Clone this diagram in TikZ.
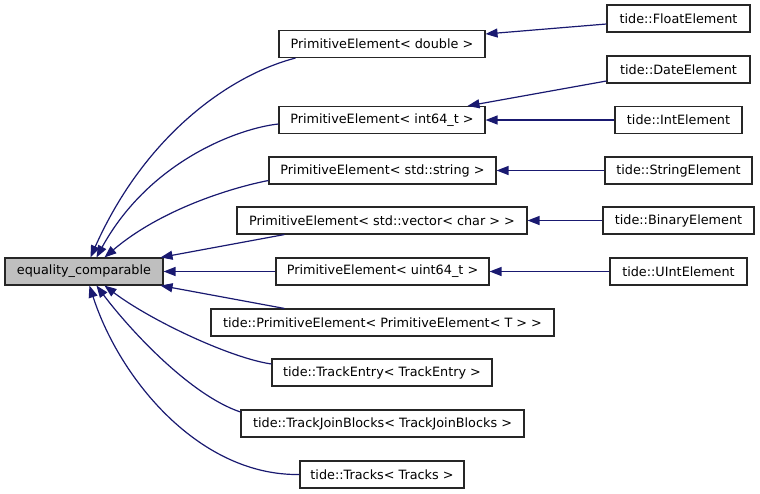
\documentclass[tikz,border=0pt]{standalone}
\usepackage{fontspec}
\setmainfont{DejaVu Sans}
\usetikzlibrary{arrows.meta,calc}
\definecolor{edgeblue}{HTML}{191970}
\tikzset{
	cls/.style={draw=black!85, line width=1.1pt, minimum height=27pt, inner sep=0pt, font=\fontsize{12.8}{15}\selectfont},
	basecls/.style={cls, fill=black!25},
	inh/.style={draw=edgeblue, line width=1.2pt, -{Triangle[length=12pt,width=9pt]}},
}

\begin{document}
\begin{tikzpicture}[x=1pt, y=-1pt]
		%%%%% START %%%%%
		\useasboundingbox (0, 0) rectangle (760, 493);
		
		\node[basecls, minimum width=158pt] (eq) at (84, 271.5) {equality\_comparable};
		
		\node[cls, minimum width=206pt] (ped) at (382, 44) {PrimitiveElement< double >};
		\node[cls, minimum width=206pt] (pei) at (382, 120) {PrimitiveElement< int64\_t >};
		\node[cls, minimum width=227pt] (pes) at (382.5, 170.5) {PrimitiveElement< std::string >};
		\node[cls, minimum width=290pt] (pev) at (382, 220.5) {PrimitiveElement< std::vector< char > >};
		\node[cls, minimum width=213pt] (peu) at (382.5, 271.5) {PrimitiveElement< uint64\_t >};
		\node[cls, minimum width=343pt] (tpe) at (382.5, 322.5) {tide::PrimitiveElement< PrimitiveElement< T > >};
		\node[cls, minimum width=220pt] (te) at (382, 372.5) {tide::TrackEntry< TrackEntry >};
		\node[cls, minimum width=283pt] (tjb) at (382.5, 423.5) {tide::TrackJoinBlocks< TrackJoinBlocks >};
		\node[cls, minimum width=164pt] (tr) at (382, 474.5) {tide::Tracks< Tracks >};
		
		\node[cls, minimum width=143pt] (fe) at (678.5, 18.5) {tide::FloatElement};
		\node[cls, minimum width=143pt] (de) at (678.5, 69.5) {tide::DateElement};
		\node[cls, minimum width=127pt] (ie) at (678.5, 120) {tide::IntElement};
		\node[cls, minimum width=147pt] (se) at (678.5, 170.5) {tide::StringElement};
		\node[cls, minimum width=151pt] (be) at (678.5, 220.5) {tide::BinaryElement};
		\node[cls, minimum width=137pt] (ue) at (678.5, 271.5) {tide::UIntElement};
		
		% into equality_comparable
		\draw[inh] ($(ped.south west)+(17,0)$) .. controls (230, 75) and (145, 135) .. ($(eq.north west)+(86,0)$);
		\draw[inh] ($(pei.west)+(0,4)$) .. controls (240, 128) and (150, 160) .. ($(eq.north west)+(92,0)$);
		\draw[inh] ($(pes.west)+(0,10)$) .. controls (230, 188) and (160, 210) .. ($(eq.north west)+(100,0)$);
		\draw[inh] ($(pev.south west)+(48,0)$) -- ($(eq.north east)+(-3,0)$);
		\draw[inh] (peu) -- (eq);
		\draw[inh] ($(tpe.north west)+(74,0)$) -- ($(eq.south east)+(-3,0)$);
		\draw[inh] ($(te.west)+(0,-8.5)$) .. controls (230, 358) and (150, 320) .. ($(eq.south west)+(100,0)$);
		\draw[inh] ($(tjb.west)+(0,-11.5)$) .. controls (190, 395) and (130, 330) .. ($(eq.south west)+(92,0)$);
		\draw[inh] (tr.west) .. controls (200, 476) and (120, 380) .. ($(eq.south west)+(85,0)$);
		
		% into the PrimitiveElement boxes
		\draw[inh] ($(fe.west)+(0,5.5)$) -- ($(ped.east)+(0,-10)$);
		\draw[inh] ($(de.west)+(0,11.5)$) -- ($(pei.north east)+(-18,0)$);
		\draw[inh] (ie) -- (pei);
		\draw[inh] (se) -- (pes);
		\draw[inh] (be) -- (pev);
		\draw[inh] (ue) -- (peu);
		%%%%% END %%%%%
\end{tikzpicture}
\end{document}
